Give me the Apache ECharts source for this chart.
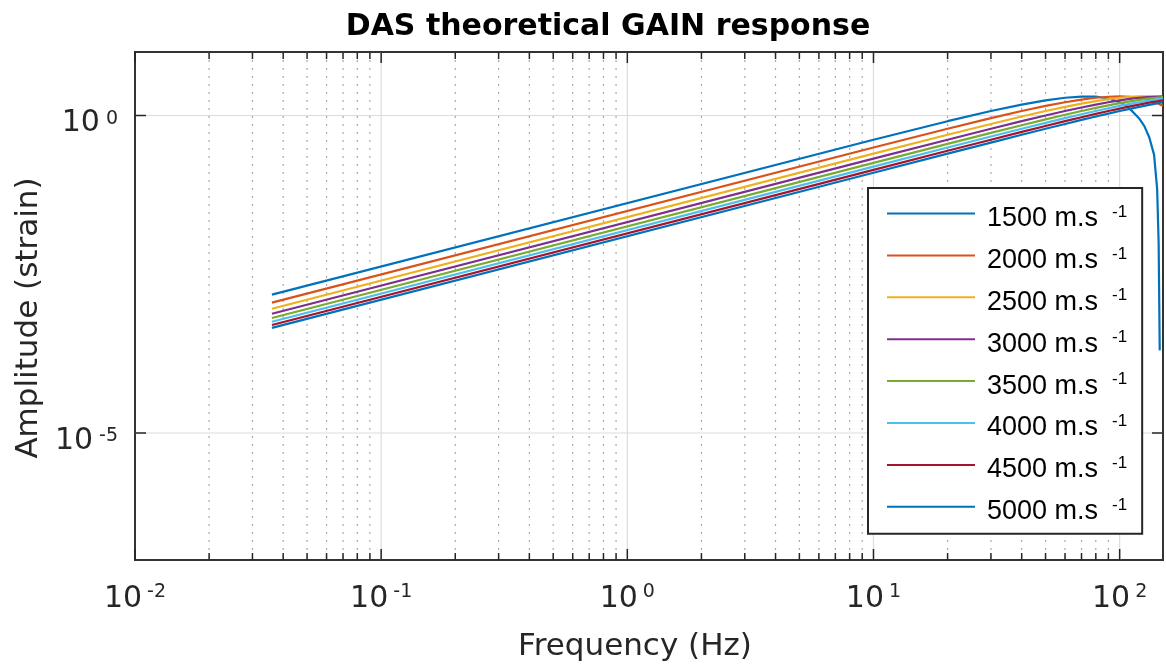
<!DOCTYPE html>
<html><head><meta charset="utf-8">
<script src="https://cdn.jsdelivr.net/npm/echarts@6/dist/echarts.min.js"></script>
<style>html,body{margin:0;padding:0;background:#fff}#c{width:1166px;height:670px}</style>
</head><body><div id="c"></div>
<script>
// ---- data ----
const velocities = [1500, 2000, 2500, 3000, 3500, 4000, 4500, 5000];
const freqCommon = [0.036, 10, 20, 30, 40, 50, 60, 70, 80, 90, 100, 110, 120, 130, 140, 150];
const freq1500 = [0.036, 10, 20, 30, 40, 50, 60, 70, 80, 90, 100, 107, 113, 120, 126, 132, 138, 142, 144, 145.5];
const amp1500 = [0.001508, 0.4158, 0.8135, 1.1756, 1.4863, 1.7321, 1.9021, 1.9890, 1.9890, 1.85, 1.62, 1.4, 1.15, 0.9, 0.68, 0.45, 0.24, 0.07, 0.01, 0.0002];
const amp2000 = [0.001131, 0.3129, 0.6180, 0.9080, 1.1756, 1.4142, 1.6180, 1.7820, 1.9021, 1.9754, 2.0, 1.9754, 1.9021, 1.7820, 1.6180, 1.4142];
const amp2500 = [0.000905, 0.2507, 0.4974, 0.7362, 0.9635, 1.1756, 1.3691, 1.5410, 1.6887, 1.8097, 1.9021, 1.9646, 1.9961, 1.9961, 1.9646, 1.9021];
const amp3000 = [0.000754, 0.2091, 0.4158, 0.6180, 0.8135, 1.0, 1.1756, 1.3383, 1.4863, 1.6180, 1.7321, 1.8271, 1.9021, 1.9563, 1.9890, 2.0];
const amp3500 = [0.000646, 0.1793, 0.3571, 0.5321, 0.7027, 0.8678, 1.0258, 1.1756, 1.3153, 1.4456, 1.5637, 1.6691, 1.7616, 1.8391, 1.9021, 1.9499];
const amp4000 = [0.000565, 0.1569, 0.3129, 0.4669, 0.6180, 0.7654, 0.9080, 1.0450, 1.1756, 1.2989, 1.4142, 1.5208, 1.6180, 1.7053, 1.7820, 1.8478];
const amp4500 = [0.000503, 0.1395, 0.2783, 0.4158, 0.5513, 0.6840, 0.8135, 0.9389, 1.0598, 1.1756, 1.2856, 1.3893, 1.4863, 1.5760, 1.6581, 1.7321];
const amp5000 = [0.000452, 0.1256, 0.2507, 0.3748, 0.4974, 0.6180, 0.7362, 0.8516, 0.9635, 1.0717, 1.1756, 1.2748, 1.3691, 1.4579, 1.5410, 1.6180];

// tick positions
const xMajorTicks = [0.01, 0.1, 1, 10, 100];
const xMinorTicks = [0.02,0.03,0.04,0.05,0.06,0.07,0.08,0.09, 0.2,0.3,0.4,0.5,0.6,0.7,0.8,0.9, 2,3,4,5,6,7,8,9, 20,30,40,50,60,70,80,90];
const yMajorTicks = [1, 1e-5];
const xTickLabels = [0.01, 0.1, 1, 10, 100];
const yTickLabels = [1, 1e-5];

const X_MIN = 0.01, X_MAX = 150, Y_MIN = 1e-7, Y_MAX = 10;
const colors = ['#0072BD','#D95319','#EDB120','#7E2F8E','#77AC30','#4DBEEE','#A2142F','#0072BD'];
const AXIS_COLOR = '#262626';
const FONT = 'DejaVu Sans';

const ampSets = [amp1500, amp2000, amp2500, amp3000, amp3500, amp4000, amp4500, amp5000];
const freqSets = [freq1500, freqCommon, freqCommon, freqCommon, freqCommon, freqCommon, freqCommon, freqCommon];
const names = velocities.map(v => v + ' m.s^-1');

function isLabel(v, list) {
  return list.some(t => Math.abs(Math.log10(v) - Math.log10(t)) < 1e-6);
}
function expLabel(v) {
  return '{b|10}{s|' + Math.round(Math.log10(v)) + '}';
}

const lineSeries = velocities.map((v, i) => ({
  name: names[i],
  type: 'line',
  data: freqSets[i].map((f, j) => [f, ampSets[i][j]]),
  symbol: 'none',
  showSymbol: false,
  lineStyle: { width: 2.2, color: colors[i] },
  itemStyle: { color: colors[i] },
  z: 3,
  clip: true
}));

const xGridData = xMajorTicks.map(v => [v, 1, 1]).concat(xMinorTicks.map(v => [v, 1, 0]));
const yGridData = yMajorTicks.map(v => [X_MIN, v]);

const xGridSeries = {
  type: 'custom', silent: true, z: 1,
  data: xGridData,
  encode: { x: 0, y: 1 },
  renderItem: function (params, api) {
    const v = api.value(0);
    const major = api.value(2) === 1;
    const top = api.coord([v, Y_MAX]);
    const bot = api.coord([v, Y_MIN]);
    const tl = major ? 11 : 7;
    const children = [];
    if (v > X_MIN) {
      children.push({ type: 'line', shape: { x1: top[0], y1: top[1], x2: bot[0], y2: bot[1] },
        style: major ? { stroke: '#dcdcdc', lineWidth: 1.2 } : { stroke: '#a8a8a8', lineWidth: 1.2, lineDash: [2, 6] } });
    }
    children.push({ type: 'line', shape: { x1: bot[0], y1: bot[1], x2: bot[0], y2: bot[1] - tl }, style: { stroke: AXIS_COLOR, lineWidth: 1.5 } });
    children.push({ type: 'line', shape: { x1: top[0], y1: top[1], x2: top[0], y2: top[1] + tl }, style: { stroke: AXIS_COLOR, lineWidth: 1.5 } });
    return { type: 'group', children: children };
  }
};

const yGridSeries = {
  type: 'custom', silent: true, z: 1,
  data: yGridData,
  encode: { x: 0, y: 1 },
  renderItem: function (params, api) {
    const v = api.value(1);
    const l = api.coord([X_MIN, v]);
    const r = api.coord([X_MAX, v]);
    return { type: 'group', children: [
      { type: 'line', shape: { x1: l[0], y1: l[1], x2: r[0], y2: r[1] }, style: { stroke: '#dcdcdc', lineWidth: 1.2 } },
      { type: 'line', shape: { x1: l[0], y1: l[1], x2: l[0] + 11, y2: l[1] }, style: { stroke: AXIS_COLOR, lineWidth: 1.5 } },
      { type: 'line', shape: { x1: r[0], y1: r[1], x2: r[0] - 11, y2: r[1] }, style: { stroke: AXIS_COLOR, lineWidth: 1.5 } }
    ]};
  }
};

const chart = echarts.init(document.getElementById('c'), null, { renderer: 'canvas' });
chart.setOption({
  animation: false,
  backgroundColor: '#fff',
  title: {
    text: 'DAS theoretical GAIN response',
    left: 608, top: 12, padding: 0, textAlign: 'center',
    textStyle: { fontFamily: FONT, fontWeight: 'bold', fontSize: 30, color: '#000' }
  },
  grid: {
    left: 135, top: 52, width: 1034, height: 508,
    show: true, borderColor: '#333', borderWidth: 2, backgroundColor: 'transparent',
    containLabel: false
  },
  legend: {
    data: names,
    orient: 'vertical',
    left: 868, top: 188,
    padding: [7, 15, 2, 19],
    itemGap: -1.6,
    itemWidth: 88, itemHeight: 2,
    icon: 'rect',
    backgroundColor: '#fff',
    borderColor: AXIS_COLOR, borderWidth: 2, borderRadius: 0,
    selectedMode: false,
    formatter: function (name) {
      const p = name.split('^');
      return '{a|' + p[0] + '}{s|' + p[1] + '}';
    },
    textStyle: {
      color: '#000',
      rich: {
        a: { fontFamily: 'Liberation Sans', fontSize: 27, lineHeight: 30, padding: [10, 0, 0, 7], color: '#000' },
        s: { fontFamily: 'Liberation Sans', fontSize: 17, lineHeight: 17, verticalAlign: 'top', padding: [5, 0, 18, 14], color: '#000' }
      }
    }
  },
  xAxis: {
    type: 'log', logBase: 10, min: X_MIN, max: X_MAX,
    name: 'Frequency (Hz)', nameLocation: 'middle', nameGap: 71,
    nameTextStyle: { fontFamily: FONT, fontSize: 31, color: AXIS_COLOR, padding: [0, 28, 0, 0] },
    axisLine: { show: false }, axisTick: { show: false }, splitLine: { show: false }, minorTick: { show: false },
    axisLabel: {
      margin: 20, color: AXIS_COLOR,
      formatter: function (v) { return isLabel(v, xTickLabels) ? expLabel(v) : ''; },
      rich: {
        b: { fontFamily: FONT, fontSize: 30, lineHeight: 30, padding: [8, 0, 0, 0], color: AXIS_COLOR },
        s: { fontFamily: FONT, fontSize: 19, lineHeight: 19, verticalAlign: 'top', padding: [3, 0, 16, 5], color: AXIS_COLOR }
      }
    }
  },
  yAxis: {
    type: 'log', logBase: 10, min: Y_MIN, max: Y_MAX,
    name: 'Amplitude (strain)', nameLocation: 'middle', nameGap: 90,
    nameTextStyle: { fontFamily: FONT, fontSize: 31, color: AXIS_COLOR, padding: [0, 24, 0, 0] },
    axisLine: { show: false }, axisTick: { show: false }, splitLine: { show: false }, minorTick: { show: false },
    axisLabel: {
      margin: 17, color: AXIS_COLOR,
      formatter: function (v) { return isLabel(v, yTickLabels) ? expLabel(v) : ''; },
      rich: {
        b: { fontFamily: FONT, fontSize: 30, lineHeight: 30, padding: [16, 0, 0, 0], color: AXIS_COLOR },
        s: { fontFamily: FONT, fontSize: 19, lineHeight: 19, verticalAlign: 'top', padding: [9, 0, 18, 6], color: AXIS_COLOR }
      }
    }
  },
  series: [xGridSeries, yGridSeries].concat(lineSeries)
});
</script>
</body></html>
